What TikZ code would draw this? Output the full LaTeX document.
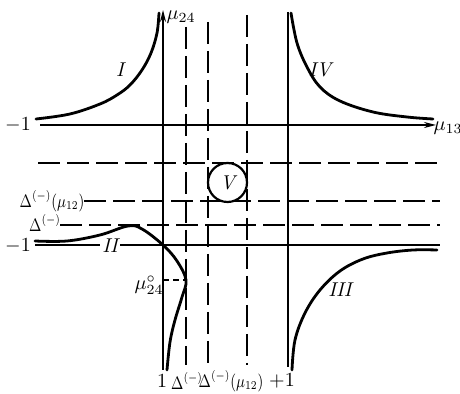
\documentclass[tikz,border=0pt]{standalone}
\usetikzlibrary{arrows.meta}
\newcommand{\cnd}[1]{\scalebox{0.8}[1]{#1}}
\begin{document}
\begin{tikzpicture}[x=0.5pt,y=-0.5pt,
  axis/.style={line width=0.7pt},
  dashline/.style={line width=0.55pt, dash pattern=on 11pt off 3.5pt},
  shortdash/.style={line width=0.55pt, dash pattern=on 3pt off 2pt},
  curve/.style={line width=1.4pt, line cap=round},
  lab/.style={font=\normalsize, inner sep=1pt},
  slab/.style={font=\small, inner sep=0.5pt},
  roman/.style={font=\normalsize\itshape, inner sep=1pt}]
\useasboundingbox (0,0) rectangle (460,394);
% coordinates
\coordinate (h1l) at (40,125);  \coordinate (h1r) at (436,125);
\coordinate (v1t) at (163,10);  \coordinate (v1b) at (163,370);
\coordinate (v2t) at (288,12);  \coordinate (v2b) at (288,367);
\coordinate (h2l) at (35,245);  \coordinate (h2r) at (440,245);
% solid axes
\draw[axis,-{Stealth[length=6pt,width=3pt]}] (h1l) -- (h1r);
\draw[axis,-{Stealth[length=6pt,width=3pt]}] (v1b) -- (v1t);
\draw[axis] (v2t) -- (v2b);
\draw[axis] (h2l) -- (h2r);
% dashed verticals
\coordinate (d1t) at (186,27);  \coordinate (d1b) at (186,365);
\coordinate (d2t) at (208,22);  \coordinate (d2b) at (208,365);
\coordinate (d3t) at (247,15);  \coordinate (d3b) at (247,365);
\draw[dashline] (d1t) -- (d1b);
\draw[dashline] (d2t) -- (d2b);
\draw[dashline] (d3t) -- (d3b);
% dashed horizontals
\coordinate (e1l) at (38,163);  \coordinate (e1r) at (440,163);
\coordinate (e2l) at (84,201);  \coordinate (e2r) at (440,201);
\coordinate (e3l) at (60,225);  \coordinate (e3r) at (440,225);
\draw[dashline] (e1l) -- (e1r);
\draw[dashline] (e2l) -- (e2r);
\draw[dashline] (e3l) -- (e3r);
% circle V
\node[draw, circle, fill=white, line width=1.1pt, minimum size=19.5pt, inner sep=0pt, font=\normalsize\itshape] (V) at (227.5,182.5) {V};
% curve I
\draw[curve] plot[smooth, tension=0.6] coordinates {(36,119) (70,114) (100,104) (117,95) (130,85) (142,70) (151,53) (157,33) (159,13)};
% curve IV
\draw[curve] plot[smooth, tension=0.6] coordinates {(291,13) (297,43) (307,67) (320,87) (340,101) (373,112) (407,117) (433,119)};
% curve III
\draw[curve] plot[smooth, tension=0.6] coordinates {(292,370) (295,340) (305,313) (320,290) (340,271) (363,259) (387,253) (413,250) (437,250)};
% curve II
\draw[curve] plot[smooth, tension=0.6] coordinates {(35,241) (67,241) (100,235) (128,226) (142,229) (163,245) (177,261) (186,280) (182,297) (175,320) (170,342) (167,370)};
% mu24 zero marker
\coordinate (m0) at (163,280); \coordinate (m1) at (186,280);
\draw[shortdash] (m0) -- (m1);
% labels
\node[lab] (lm1a) at (18,125) {$-1$};
\node[lab] (lm1b) at (18,246) {$-1$};
\node[slab] (ldm) at (52,201) {\cnd{$\Delta^{(-)}(\mu_{12})$}};
\node[slab] (ld) at (45,223) {\cnd{$\Delta^{(-)}$}};
\node[lab] (lmu0) at (149,285) {$\mu_{24}^{\circ}$};
\node[lab] (lmu24) at (181,17) {$\mu_{24}$};
\node[lab] (lmu13) at (448,128) {$\mu_{13}$};
\node[lab] (b1) at (162,381) {$1$};
\node[slab] (b2) at (187,381) {\cnd{$\Delta^{(-)}$}};
\node[slab] (b3) at (231,381) {\cnd{$\Delta^{(-)}(\mu_{12})$}};
\node[lab] (b4) at (282,381) {$+1$};
\node[roman] (rI) at (120,70) {I};
\node[roman] (rIV) at (320,70) {IV};
\node[roman, fill=white] (rII) at (110,246) {II};
\node[roman] (rIII) at (340,290) {III};
\end{tikzpicture}
\end{document}
